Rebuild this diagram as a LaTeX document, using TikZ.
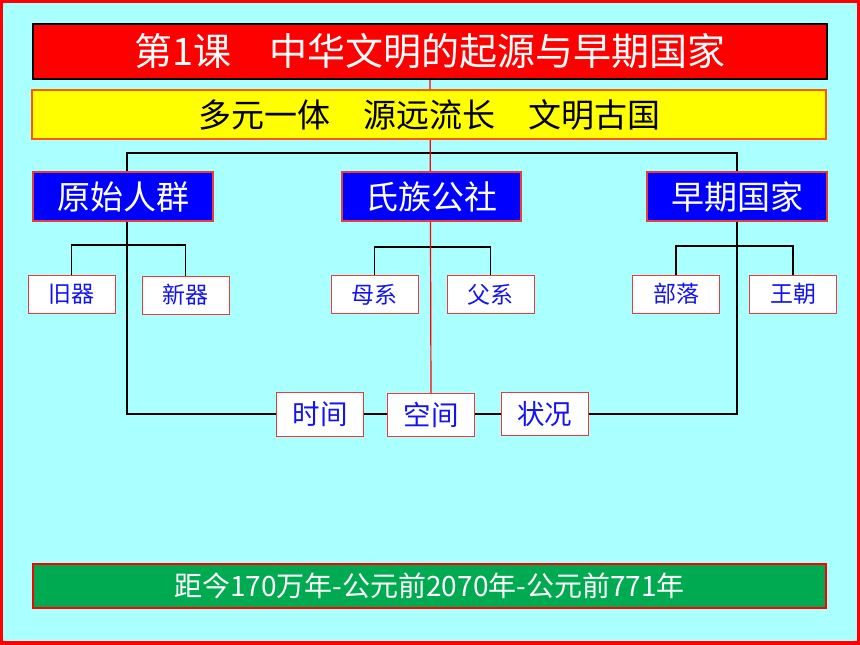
\documentclass[tikz,border=0pt]{standalone}
\usepackage{fontspec}
\newfontfamily\cjk{Noto Sans CJK SC}
\definecolor{bgc}{RGB}{170,255,255}
\definecolor{frame}{RGB}{255,0,0}
\definecolor{ttl}{RGB}{255,0,0}
\definecolor{ylw}{RGB}{255,255,0}
\definecolor{blu}{RGB}{0,0,255}
\definecolor{grn}{RGB}{0,170,80}
\definecolor{bord}{RGB}{230,60,60}
\definecolor{txtblue}{RGB}{20,20,240}
\pgfdeclarelayer{bg}
\pgfdeclarelayer{lines}
\pgfsetlayers{bg,lines,main}
\begin{document}
\begin{tikzpicture}[x=1pt,y=-1pt,
  base/.style={inner sep=0pt,outer sep=0pt,font=\cjk},
  titlebox/.style={base,fill=ttl,draw=black,line width=1.5pt,text=white},
  subtitlebox/.style={base,fill=ylw,draw=orange!70!red,line width=1.2pt,text=black},
  bluebox/.style={base,fill=blu,draw=bord,line width=1.2pt,text=white,minimum width=180pt,minimum height=49pt},
  smallbox/.style={base,fill=white,draw=bord,line width=1pt,text=txtblue,minimum width=87pt,minimum height=38pt},
  midbox/.style={base,fill=white,draw=bord,line width=1pt,text=txtblue,minimum width=87pt,minimum height=44pt},
  greenbox/.style={base,fill=grn,draw=red,line width=1.2pt,text=white},
  blk/.style={draw=black,line width=1.5pt},
  redline/.style={draw=red,line width=1.2pt}
]
\begin{pgfonlayer}{bg}
\fill[frame] (0,0) rectangle (860,645);
\fill[bgc] (3,3) rectangle (857,641);
\end{pgfonlayer}
\useasboundingbox (0,0) rectangle (860,645);

\node[titlebox,minimum width=794pt,minimum height=55pt,font=\cjk\fontsize{38}{38}\selectfont] (title) at (430,51.5) {第1课　中华文明的起源与早期国家};
\node[subtitlebox,minimum width=794pt,minimum height=49pt,font=\cjk\fontsize{33}{33}\selectfont] (sub) at (429,114.5) {多元一体　源远流长　文明古国};

\node[bluebox,font=\cjk\fontsize{33}{33}\selectfont] (ys) at (123,196.5) {原始人群};
\node[bluebox,minimum width=179pt,font=\cjk\fontsize{33}{33}\selectfont] (sz) at (431.5,196.5) {氏族公社};
\node[bluebox,font=\cjk\fontsize{33}{33}\selectfont] (zq) at (737,196.5) {早期国家};

\node[smallbox,font=\cjk\fontsize{23}{23}\selectfont] (jq) at (71.5,294.5) {旧器};
\node[smallbox,font=\cjk\fontsize{23}{23}\selectfont] (xq) at (185.5,295) {新器};
\node[smallbox,font=\cjk\fontsize{23}{23}\selectfont] (mx) at (374.5,294.5) {母系};
\node[smallbox,font=\cjk\fontsize{23}{23}\selectfont] (fx) at (490.5,294.5) {父系};
\node[smallbox,font=\cjk\fontsize{23}{23}\selectfont] (bl) at (676,294) {部落};
\node[smallbox,font=\cjk\fontsize{23}{23}\selectfont] (wc) at (793,294) {王朝};

\node[midbox,font=\cjk\fontsize{27.5}{27.5}\selectfont] (sj) at (320,414) {时间};
\node[midbox,minimum height=43pt,font=\cjk\fontsize{27.5}{27.5}\selectfont] (kj) at (431,415) {空间};
\node[midbox,minimum height=43pt,font=\cjk\fontsize{27.5}{27.5}\selectfont] (zk) at (544.5,414) {状况};

\node[greenbox,minimum width=793pt,minimum height=44pt,font=\cjk\fontsize{28}{28}\selectfont] (age) at (429.5,586) {距今170万年-公元前2070年-公元前771年};

% main bracket
\coordinate (tl) at (127,153);
\coordinate (tr) at (737,153);
\coordinate (bll) at (127,414);
\coordinate (brr) at (737,414);
\coordinate (h1) at (127,245);
\coordinate (h2) at (431,247);
\coordinate (h3) at (737,246);

\begin{pgfonlayer}{lines}
\draw[blk] (sj.west) -- (bll) -- (tl) -- (tr) -- (brr) -- (zk.east);
\draw[blk] (sj.east) -- (kj.west |- sj.east);
\draw[blk] (kj.east |- zk.west) -- (zk.west);

\draw[blk] (jq.north) |- (h1) -| (xq.north);
\draw[blk] (mx.north) |- (h2) -| (fx.north);
\draw[blk] (bl.north) |- (h3) -| (wc.north);

\draw[redline] (title.south) -- (kj.north);
\end{pgfonlayer}
\end{tikzpicture}
\end{document}
